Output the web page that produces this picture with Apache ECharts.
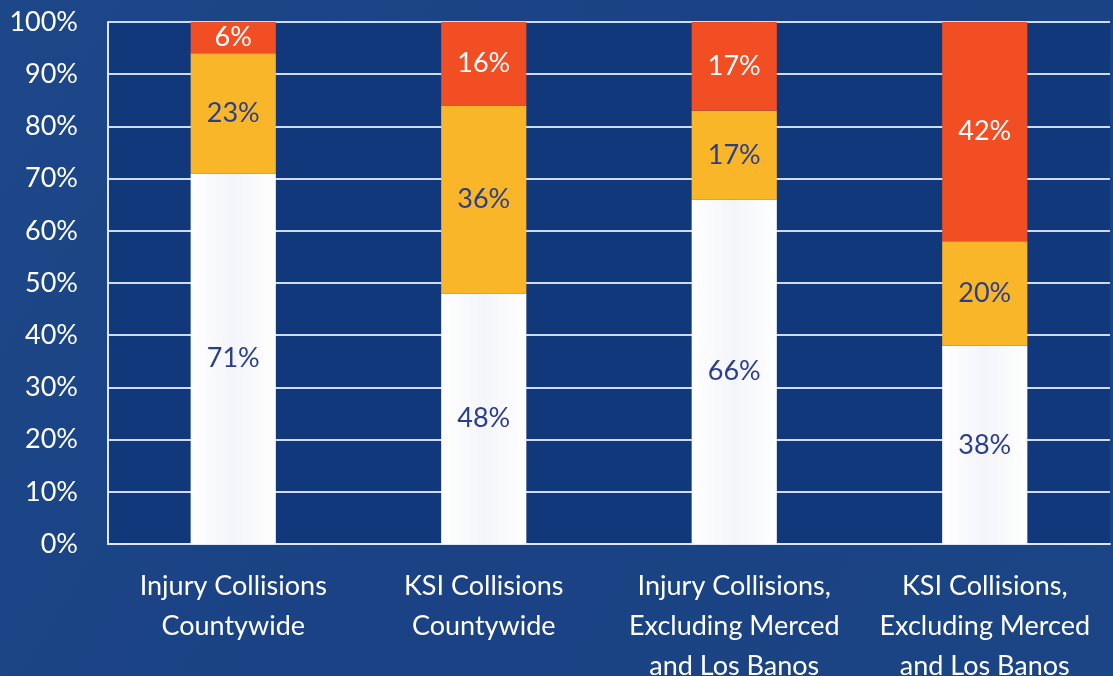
<!DOCTYPE html>
<html>
<head>
<meta charset="utf-8">
<script src="https://cdn.jsdelivr.net/npm/echarts@6/dist/echarts.min.js"></script>
<style>
  html, body { margin: 0; padding: 0; background: #1b4384; }
  #chart { width: 1113px; height: 676px; }
</style>
</head>
<body>
<div id="chart"></div>
<script>
// categories along the x axis
var categories = [
  'Injury Collisions\nCountywide',
  'KSI Collisions\nCountywide',
  'Injury Collisions,\nExcluding Merced\nand Los Banos',
  'KSI Collisions,\nExcluding Merced\nand Los Banos'
]
// stacked shares (percent)
var whiteShare = [71, 48, 66, 38]
var orangeShare = [23, 36, 17, 20]
var redShare = [6, 16, 17, 42]

var font = 'Lato, "Open Sans", sans-serif'

function label(color) {
  return {
    show: true,
    position: 'inside',
    formatter: '{c}%',
    color: color,
    fontSize: 27,
    fontFamily: font
  }
}

var chart = echarts.init(document.getElementById('chart'))
chart.setOption({
  backgroundColor: {
    type: 'linear', x: 0, y: 0, x2: 1, y2: 1,
    colorStops: [
      { offset: 0, color: '#1d4788' },
      { offset: 0.5, color: '#1a4284' },
      { offset: 1, color: '#1c4585' }
    ]
  },
  animation: false,
  grid: {
    left: 108, right: 3, top: 22, bottom: 132,
    outerBoundsMode: 'none',
    containLabel: false,
    show: true,
    backgroundColor: '#11387a',
    borderWidth: 0
  },
  xAxis: {
    type: 'category',
    data: categories,
    axisLine: { show: true, lineStyle: { color: '#dfe8fb', width: 2 } },
    axisTick: { show: false },
    axisLabel: {
      color: '#ffffff',
      fontSize: 27,
      fontFamily: font,
      lineHeight: 40,
      margin: 22,
      interval: 0
    }
  },
  yAxis: {
    type: 'value',
    min: 0,
    max: 100,
    interval: 10,
    axisLine: { show: true, lineStyle: { color: '#dfe8fb', width: 2 } },
    axisTick: { show: false },
    axisLabel: {
      color: '#ffffff',
      fontSize: 27,
      fontFamily: font,
      margin: 30,
      formatter: '{value}%'
    },
    splitLine: { lineStyle: { color: '#cfdcf7', width: 2 } }
  },
  series: [
    {
      name: 'white',
      type: 'bar',
      stack: 'all',
      barWidth: '34%',
      data: whiteShare,
      itemStyle: {
        color: {
          type: 'linear', x: 0, y: 0, x2: 1, y2: 0,
          colorStops: [
            { offset: 0, color: '#ffffff' },
            { offset: 0.5, color: '#f4f5fa' },
            { offset: 1, color: '#ffffff' }
          ]
        }
      },
      label: label('#2b3f88')
    },
    {
      name: 'orange',
      type: 'bar',
      stack: 'all',
      data: orangeShare,
      itemStyle: { color: '#f9b628' },
      label: label('#2b3f88')
    },
    {
      name: 'red',
      type: 'bar',
      stack: 'all',
      data: redShare,
      itemStyle: { color: '#f24e24' },
      label: label('#ffffff')
    }
  ]
})
</script>
</body>
</html>
